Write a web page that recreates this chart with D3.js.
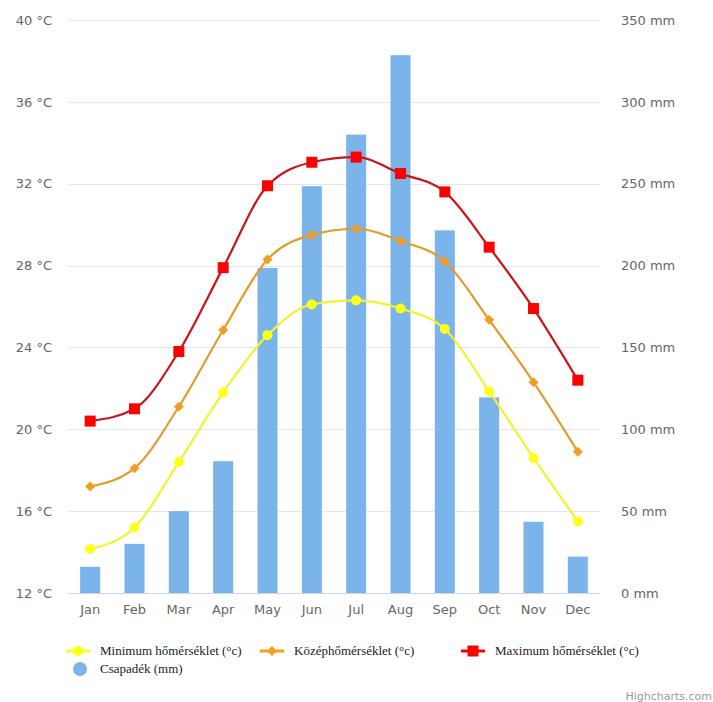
<!DOCTYPE html>
<html>
<head>
<meta charset="utf-8">
<script src="https://cdn.jsdelivr.net/npm/d3@7"></script>
<style>
html,body{margin:0;padding:0;background:#fff;}
svg{display:block;}
</style>
</head>
<body>
<svg id="chart" width="713" height="702"></svg>
<script>
const months = ["Jan","Feb","Mar","Apr","May","Jun","Jul","Aug","Sep","Oct","Nov","Dec"];
const minTemp = [14.15, 15.2, 18.4, 21.8, 24.6, 26.1, 26.3, 25.9, 24.9, 21.85, 18.6, 15.5];
const meanTemp = [17.2, 18.1, 21.1, 24.85, 28.3, 29.5, 29.8, 29.2, 28.2, 25.35, 22.3, 18.9];
const maxTemp = [20.4, 21.0, 23.8, 27.9, 31.9, 33.05, 33.3, 32.5, 31.6, 28.9, 25.9, 22.4];
const precip = [16, 30, 50, 80.5, 198.5, 248.5, 280, 328.5, 221.5, 119.5, 43.5, 22.2];
const tempTicks = [12, 16, 20, 24, 28, 32, 36, 40];
const precipTicks = [0, 50, 100, 150, 200, 250, 300, 350];
const seriesNames = ["Minimum hőmérséklet (°c)", "Középhőmérséklet (°c)", "Maximum hőmérséklet (°c)", "Csapadék (mm)"];

const svg = d3.select("#chart");
const L = 68, R = 600, T = 20, B = 593;

const x = d3.scaleBand().domain(months).range([L, R]);
const yT = d3.scaleLinear().domain([12, 40]).range([B, T]);
const yP = d3.scaleLinear().domain([0, 350]).range([B, T]);

const axisFont = "'DejaVu Sans', Verdana, sans-serif";

// grid
svg.append("g").selectAll("line").data(tempTicks.slice(1)).join("line")
  .attr("x1", L).attr("x2", R)
  .attr("y1", d => Math.round(yT(d)) + 0.5).attr("y2", d => Math.round(yT(d)) + 0.5)
  .attr("stroke", "#e6e6e6").attr("stroke-width", 1);

// left axis
const gL = svg.append("g").attr("transform", `translate(${L - 16},0)`)
  .call(d3.axisLeft(yT).tickValues(tempTicks).tickSize(0).tickPadding(0).tickFormat(d => d + " °C"));
gL.select(".domain").remove();
gL.selectAll("text").attr("font-family", axisFont).attr("font-size", 13).attr("fill", "#666");

// right axis
const gR = svg.append("g").attr("transform", `translate(${R + 21},0)`)
  .call(d3.axisRight(yP).tickValues(precipTicks).tickSize(0).tickPadding(0).tickFormat(d => d + " mm"));
gR.select(".domain").remove();
gR.selectAll("text").attr("font-family", axisFont).attr("font-size", 13).attr("fill", "#666");

// bars
const bw = 20;
svg.append("g").selectAll("rect").data(precip).join("rect")
  .attr("x", (d, i) => x(months[i]) + x.bandwidth() / 2 - bw / 2)
  .attr("width", bw)
  .attr("y", d => yP(d))
  .attr("height", d => B - yP(d))
  .attr("fill", "#7ab4ea");

// x axis
svg.append("line").attr("x1", L).attr("x2", R).attr("y1", B + 0.5).attr("y2", B + 0.5)
  .attr("stroke", "#ccd6eb").attr("stroke-width", 1);
const gX = svg.append("g").attr("transform", `translate(0,${B})`)
  .call(d3.axisBottom(x).tickSize(0).tickPadding(12));
gX.select(".domain").remove();
gX.selectAll("text").attr("font-family", axisFont).attr("font-size", 13).attr("fill", "#666");

// lines
const cx = (i) => x(months[i]) + x.bandwidth() / 2;
const lineGen = d3.line().x((d, i) => cx(i)).y(d => yT(d)).curve(d3.curveMonotoneX);

const series = [
  {data: minTemp, line: "#f2f230", fill: "#ffff1a", shape: "circle"},
  {data: meanTemp, line: "#e39b2c", fill: "#f29e22", shape: "diamond"},
  {data: maxTemp, line: "#c8141a", fill: "#ff0000", shape: "square"}
];

function drawMarker(g, shape, px, py, fill) {
  if (shape === "circle") {
    g.append("circle").attr("cx", px).attr("cy", py).attr("r", 5).attr("fill", fill);
  } else if (shape === "diamond") {
    g.append("path").attr("d", `M${px},${py - 5}L${px + 5},${py}L${px},${py + 5}L${px - 5},${py}Z`).attr("fill", fill);
  } else {
    g.append("rect").attr("x", px - 5.5).attr("y", py - 5.5).attr("width", 11).attr("height", 11).attr("fill", fill);
  }
}

series.forEach(s => {
  svg.append("path").datum(s.data).attr("d", lineGen)
    .attr("fill", "none").attr("stroke", s.line).attr("stroke-width", 2.2);
  const g = svg.append("g");
  s.data.forEach((d, i) => drawMarker(g, s.shape, cx(i), yT(d), s.fill));
});

// legend
const legFont = "'Liberation Serif', 'Times New Roman', serif";
const legItems = [
  {tx: 100, y: 651, s: series[0], name: seriesNames[0]},
  {tx: 294, y: 651, s: series[1], name: seriesNames[1]},
  {tx: 495, y: 651, s: series[2], name: seriesNames[2]}
];
const lg = svg.append("g");
legItems.forEach(it => {
  const c = it.tx - 22;
  lg.append("line").attr("x1", c - 12).attr("x2", c + 12).attr("y1", it.y).attr("y2", it.y)
    .attr("stroke", it.s.fill).attr("stroke-width", 3);
  drawMarker(lg, it.s.shape, c, it.y, it.s.fill);
  lg.append("text").attr("x", it.tx).attr("y", it.y + 4).text(it.name)
    .attr("font-family", legFont).attr("font-size", 13).attr("fill", "#222");
});
lg.append("circle").attr("cx", 80).attr("cy", 669).attr("r", 7).attr("fill", "#7ab4ea");
lg.append("text").attr("x", 100).attr("y", 673).text(seriesNames[3])
  .attr("font-family", legFont).attr("font-size", 13).attr("fill", "#222");

// credit
svg.append("text").attr("x", 712).attr("y", 700).attr("text-anchor", "end")
  .attr("font-family", axisFont).attr("font-size", 11).attr("fill", "#999").text("Highcharts.com");
</script>
</body>
</html>
